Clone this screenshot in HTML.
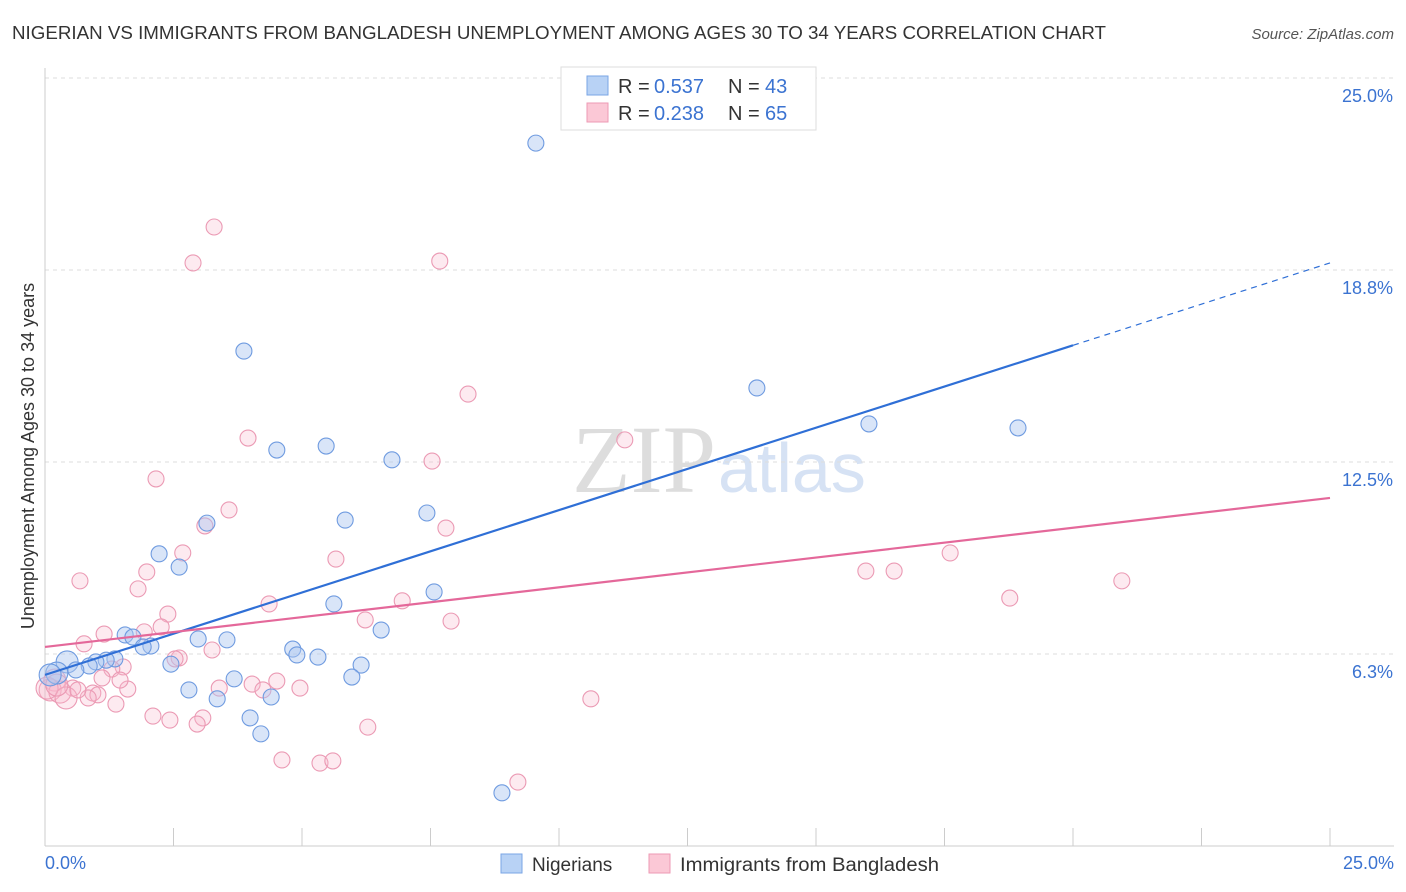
<!DOCTYPE html>
<html><head><meta charset="utf-8"><style>
body{margin:0;background:#fff;font-family:"Liberation Sans",sans-serif;}
svg{display:block}
</style></head><body>
<svg id="c" width="1406" height="892" xmlns="http://www.w3.org/2000/svg">
<text x="12" y="39" font-size="18" fill="#333" textLength="1094" lengthAdjust="spacingAndGlyphs">NIGERIAN VS IMMIGRANTS FROM BANGLADESH UNEMPLOYMENT AMONG AGES 30 TO 34 YEARS CORRELATION CHART</text>
<text x="1394" y="39" font-size="15" fill="#555" font-style="italic" text-anchor="end">Source: ZipAtlas.com</text>
<text x="716" y="492" font-size="96" fill="#ddd" text-anchor="end" font-family="Liberation Serif">ZIP</text>
<text x="718" y="492" font-size="70" fill="#d6e2f4">atlas</text>
<g id="grid"></g><g id="axes"></g><g id="pts"></g><g id="lines"></g>
<text transform="translate(34,456) rotate(-90)" font-size="18" fill="#333" text-anchor="middle">Unemployment Among Ages 30 to 34 years</text>
<text x="45" y="869" font-size="18" fill="#3b73d1">0.0%</text>
<text x="1394" y="869" font-size="18" fill="#3b73d1" text-anchor="end">25.0%</text>
<g>
<rect x="561" y="67" width="255" height="63" fill="#fff" stroke="#ddd"/>
<rect x="587" y="76" width="21" height="19" fill="#b8d2f5" stroke="#7aa5e5"/>
<rect x="587" y="103" width="21" height="19" fill="#fbc8d6" stroke="#ee9ab4"/>
<text x="618" y="93" font-size="20" fill="#333">R =</text>
<text x="654" y="93" font-size="20" fill="#3b73d1">0.537</text>
<text x="728" y="93" font-size="20" fill="#333">N =</text>
<text x="765" y="93" font-size="20" fill="#3b73d1">43</text>
<text x="618" y="120" font-size="20" fill="#333">R =</text>
<text x="654" y="120" font-size="20" fill="#3b73d1">0.238</text>
<text x="728" y="120" font-size="20" fill="#333">N =</text>
<text x="765" y="120" font-size="20" fill="#3b73d1">65</text>
</g>
<g>
<rect x="501" y="854" width="21" height="19" fill="#b8d2f5" stroke="#7aa5e5"/>
<text x="532" y="871" font-size="19" fill="#333">Nigerians</text>
<rect x="649" y="854" width="21" height="19" fill="#fbc8d6" stroke="#ee9ab4"/>
<text x="680" y="871" font-size="19" fill="#333" textLength="259" lengthAdjust="spacingAndGlyphs">Immigrants from Bangladesh</text>
</g>
</svg>
<script>
const blueX=[9.55,3.87,13.85,16.03,18.93,4.51,5.47,6.75,7.43,5.84,3.15,2.22,2.61,7.57,5.62,6.54,1.56,1.71,2.98,3.54,2.06,1.91,4.82,4.90,5.31,1.36,1.19,0.99,0.43,0.86,2.45,6.15,0.60,0.23,0.10,5.97,3.68,2.80,4.40,3.35,3.99,4.20,8.89];
const blueY=[22.88,16.11,14.91,13.74,13.61,12.89,13.02,12.57,10.84,10.61,10.51,9.51,9.08,8.27,7.88,7.03,6.87,6.80,6.74,6.71,6.51,6.48,6.41,6.22,6.15,6.09,6.05,5.99,5.99,5.86,5.92,5.89,5.73,5.63,5.57,5.50,5.44,5.08,4.85,4.79,4.17,3.65,1.73];
const pinkX=[3.29,2.88,7.68,8.23,3.95,11.28,7.53,2.16,3.58,3.11,7.80,2.68,5.66,1.98,15.97,16.52,17.61,20.95,0.68,1.81,6.95,4.36,18.77,2.39,6.23,7.90,2.26,1.15,1.93,0.76,3.25,2.61,2.53,1.52,1.30,1.11,0.19,0.54,4.03,4.51,3.39,4.24,4.96,1.61,0.10,0.29,0.93,1.03,0.84,0.41,1.38,10.62,2.10,2.43,3.07,2.96,6.28,4.61,5.35,5.60,9.20,0.04,0.23,0.64,1.46];
const pinkY=[20.15,18.98,19.04,14.71,13.28,13.22,12.53,11.95,10.94,10.42,10.35,9.54,9.34,8.92,8.95,8.95,9.54,8.63,8.63,8.37,7.98,7.88,8.07,7.55,7.36,7.32,7.13,6.90,6.97,6.58,6.38,6.12,6.09,5.83,5.76,5.47,5.40,5.14,5.27,5.37,5.14,5.08,5.14,5.11,5.08,5.01,4.98,4.92,4.82,4.82,4.62,4.79,4.23,4.10,4.17,3.97,3.87,2.80,2.70,2.77,2.08,5.14,5.24,5.08,5.40];
const yTicks=[6.25,12.5,18.75,25];
const yTickLabels=["6.3%","12.5%","18.8%","25.0%"];
const blueFit=[5.57,18.98]; const pinkFit=[6.48,11.33];
const NS="http://www.w3.org/2000/svg";
const sx=v=>45+v*51.4, sy=v=>846-v*30.72;
function mk(t,a,p){const e=document.createElementNS(NS,t);for(const k in a)e.setAttribute(k,a[k]);p.appendChild(e);return e;}
const grid=document.getElementById('grid'),axes=document.getElementById('axes'),pts=document.getElementById('pts'),lines=document.getElementById('lines');
yTicks.forEach((t,i)=>{const l=mk('line',{x1:45,x2:1394,y1:sy(t),y2:sy(t),stroke:'#ddd','stroke-dasharray':'4,4'},grid);


const tx=mk('text',{x:1393,y:sy(t)+24,'font-size':18,fill:'#3b73d1','text-anchor':'end'},axes);tx.textContent=yTickLabels[i];

});
const ax=mk('line',{x1:45,x2:1394,y1:846,y2:846,stroke:'#ccc'},axes);


const ay=mk('line',{x1:45,x2:45,y1:68,y2:846,stroke:'#ccc'},axes);


for(let i=0;i<=10;i++){const t=mk('line',{x1:sx(i*2.5),x2:sx(i*2.5),y1:828,y2:846,stroke:'#ccc'},axes);

}
function dots(X,Y,fill,stroke,name){X.forEach((x,i)=>{const r=(x<0.5)?11:8;const c=mk('circle',{cx:sx(x),cy:sy(Y[i]),r:r,fill:fill,stroke:stroke,'stroke-width':1.1},pts);

});}
dots(pinkX,pinkY,'rgba(248,185,205,0.3)','#eb9ab4','bangladesh-point');
dots(blueX,blueY,'rgba(170,198,240,0.45)','#6f9be0','nigerian-point');
const bx=20;const byAt=v=>blueFit[0]+(blueFit[1]-blueFit[0])*v/25;
const b1=mk('line',{x1:sx(0),y1:sy(blueFit[0]),x2:sx(bx),y2:sy(byAt(bx)),stroke:'#2f6fd6','stroke-width':2.2},lines);


const b2=mk('line',{x1:sx(bx),y1:sy(byAt(bx)),x2:sx(25),y2:sy(blueFit[1]),stroke:'#2f6fd6','stroke-width':1.2,'stroke-dasharray':'6,5'},lines);


const p1=mk('line',{x1:sx(0),y1:sy(pinkFit[0]),x2:sx(25),y2:sy(pinkFit[1]),stroke:'#e4689a','stroke-width':2.2},lines);


</script>
</body></html>
